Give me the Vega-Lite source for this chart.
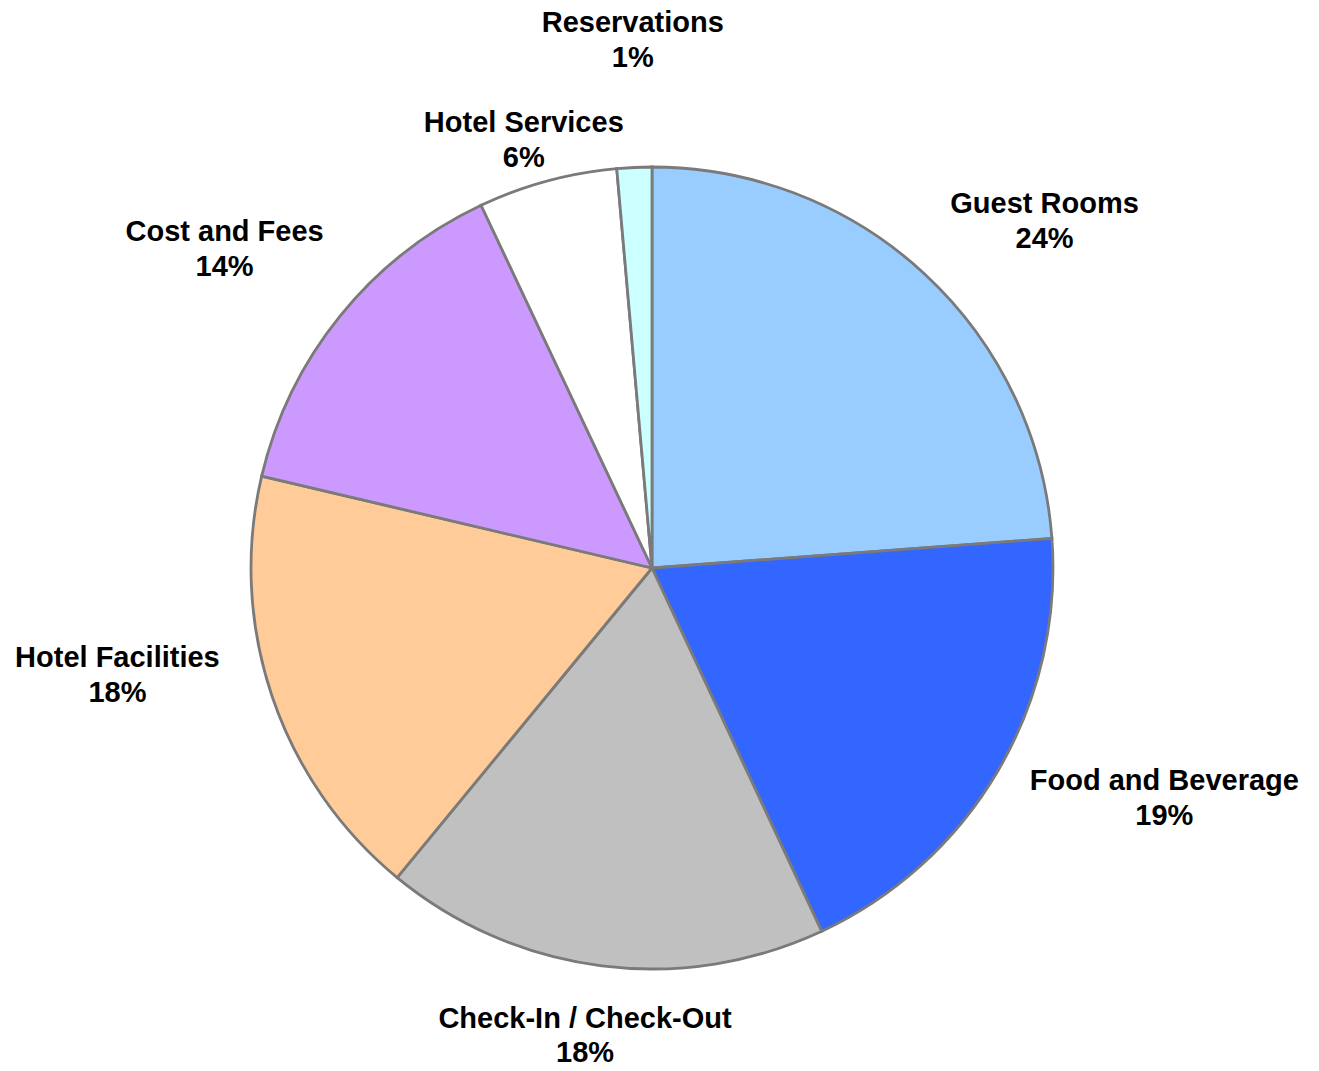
{
  "$schema": "https://vega.github.io/schema/vega-lite/v6.json",
  "width": 1304,
  "height": 1006,
  "autosize": "none",
  "padding": {"left": 0, "top": 65, "right": 15, "bottom": 0},
  "background": "white",
  "view": {"stroke": null},
  "config": {"text": {"font": "Liberation Sans", "fontWeight": "bold", "fontSize": 29, "fill": "#000000", "align": "center", "baseline": "middle"}},
  "data": {"values": [
    {"category": "Guest Rooms", "share": 23.8, "label": "24%", "order": 1},
    {"category": "Food and Beverage", "share": 19.2, "label": "19%", "order": 2},
    {"category": "Check-In / Check-Out", "share": 17.9, "label": "18%", "order": 3},
    {"category": "Hotel Facilities", "share": 17.7, "label": "18%", "order": 4},
    {"category": "Cost and Fees", "share": 14.3, "label": "14%", "order": 5},
    {"category": "Hotel Services", "share": 5.6, "label": "6%", "order": 6},
    {"category": "Reservations", "share": 1.4, "label": "1%", "order": 7}
  ]},
  "encoding": {
    "theta": {"field": "share", "type": "quantitative", "stack": true},
    "order": {"field": "order", "type": "quantitative"}
  },
  "layer": [
    {
      "mark": {"type": "arc", "outerRadius": 401, "stroke": "#7a7a7a", "strokeWidth": 2.8},
      "encoding": {
        "color": {"field": "category", "type": "nominal", "legend": null,
          "scale": {"domain": ["Guest Rooms", "Food and Beverage", "Check-In / Check-Out", "Hotel Facilities", "Cost and Fees", "Hotel Services", "Reservations"],
                    "range": ["#99CCFF", "#3366FF", "#C0C0C0", "#FFCC99", "#CC99FF", "#FFFFFF", "#CCFFFF"]}}
      }
    },
    {"mark": {"type": "text", "radius": 521, "dx": 38, "dy": 18}, "encoding": {"text": {"condition": {"test": "datum.category === 'Guest Rooms'", "field": "category", "type": "nominal"}, "value": ""}}},
    {"mark": {"type": "text", "radius": 521, "dx": 38, "dy": 53}, "encoding": {"text": {"condition": {"test": "datum.category === 'Guest Rooms'", "field": "label", "type": "nominal"}, "value": ""}}},
    {"mark": {"type": "text", "radius": 559, "dx": 30, "dy": -70}, "encoding": {"text": {"condition": {"test": "datum.category === 'Food and Beverage'", "field": "category", "type": "nominal"}, "value": ""}}},
    {"mark": {"type": "text", "radius": 559, "dx": 30, "dy": -35}, "encoding": {"text": {"condition": {"test": "datum.category === 'Food and Beverage'", "field": "label", "type": "nominal"}, "value": ""}}},
    {"mark": {"type": "text", "radius": 478, "dx": -7, "dy": -23}, "encoding": {"text": {"condition": {"test": "datum.category === 'Check-In / Check-Out'", "field": "category", "type": "nominal"}, "value": ""}}},
    {"mark": {"type": "text", "radius": 478, "dx": -7, "dy": 11}, "encoding": {"text": {"condition": {"test": "datum.category === 'Check-In / Check-Out'", "field": "label", "type": "nominal"}, "value": ""}}},
    {"mark": {"type": "text", "radius": 541, "dx": -22, "dy": -83}, "encoding": {"text": {"condition": {"test": "datum.category === 'Hotel Facilities'", "field": "category", "type": "nominal"}, "value": ""}}},
    {"mark": {"type": "text", "radius": 541, "dx": -22, "dy": -48}, "encoding": {"text": {"condition": {"test": "datum.category === 'Hotel Facilities'", "field": "label", "type": "nominal"}, "value": ""}}},
    {"mark": {"type": "text", "radius": 532, "dx": -14, "dy": -1}, "encoding": {"text": {"condition": {"test": "datum.category === 'Cost and Fees'", "field": "category", "type": "nominal"}, "value": ""}}},
    {"mark": {"type": "text", "radius": 532, "dx": -14, "dy": 34}, "encoding": {"text": {"condition": {"test": "datum.category === 'Cost and Fees'", "field": "label", "type": "nominal"}, "value": ""}}},
    {"mark": {"type": "text", "radius": 445, "dx": -12, "dy": -15}, "encoding": {"text": {"condition": {"test": "datum.category === 'Hotel Services'", "field": "category", "type": "nominal"}, "value": ""}}},
    {"mark": {"type": "text", "radius": 445, "dx": -12, "dy": 20}, "encoding": {"text": {"condition": {"test": "datum.category === 'Hotel Services'", "field": "label", "type": "nominal"}, "value": ""}}},
    {"mark": {"type": "text", "radius": 528, "dx": 4, "dy": -18}, "encoding": {"text": {"condition": {"test": "datum.category === 'Reservations'", "field": "category", "type": "nominal"}, "value": ""}}},
    {"mark": {"type": "text", "radius": 528, "dx": 4, "dy": 17}, "encoding": {"text": {"condition": {"test": "datum.category === 'Reservations'", "field": "label", "type": "nominal"}, "value": ""}}}
  ]
}
